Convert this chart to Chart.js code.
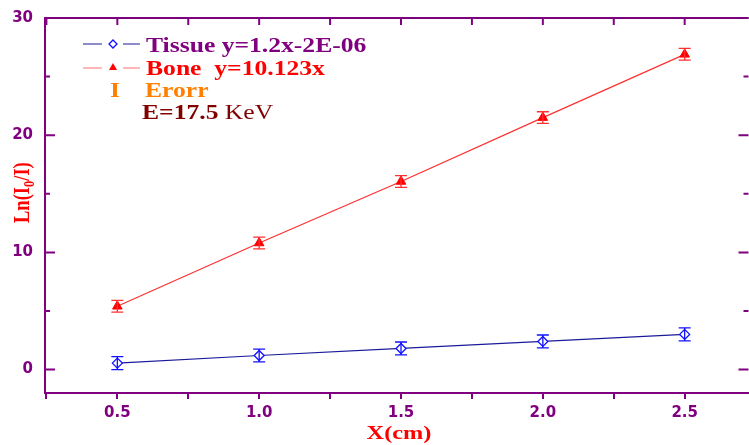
<!DOCTYPE html>
<html>
<head>
<meta charset="utf-8">
<script src="https://cdn.jsdelivr.net/npm/chart.js@4.4.1/dist/chart.umd.min.js"></script>
<style>
  body { margin: 0; background: #fff; overflow: hidden; }
  #wrap { width: 749px; height: 445px; overflow: hidden; }
  #myChart { display: block; margin-top: -3px; }
</style>
</head>
<body>
<div id="wrap"><canvas id="myChart" width="755" height="448"></canvas></div>
<script>
// values
var xValues = [0.5, 1.0, 1.5, 2.0, 2.5];
var tissueValues = [0.55, 1.2, 1.8, 2.4, 3.0];
var boneValues = [5.4, 10.8, 16.05, 21.5, 26.9];
var tissueErr = [0.55, 0.55, 0.55, 0.55, 0.55];
var boneErr = [0.5, 0.5, 0.5, 0.5, 0.5];
var xTickLabels = ['0.5', '1.0', '1.5', '2.0', '2.5'];
var yTickLabels = ['0', '10', '20', '30'];

var purple = '#800080';
var serif = '"Liberation Serif", "Times New Roman", serif';
var stretch = 1.28; // text in the original is wide
var dy = 3; // canvas sits 3px above the page top

function toPoints(ys) {
    return xValues.map(function (x, i) { return { x: x, y: ys[i] }; });
}

// draws text widened horizontally, returns the drawn width
function wideText(ctx, text, x, y) {
    ctx.save();
    ctx.translate(x, y + dy);
    ctx.scale(stretch, 1);
    ctx.fillText(text, 0, 0);
    var w = ctx.measureText(text).width * stretch;
    ctx.restore();
    return w;
}

// error bars, drawn through the scales
var errorBars = {
    id: 'errorBars',
    afterDatasetsDraw: function (chart) {
        var ctx = chart.ctx;
        var xs = chart.scales.x, ys = chart.scales.y;
        var sets = [
            { vals: tissueValues, err: tissueErr, color: '#1010ff' },
            { vals: boneValues, err: boneErr, color: '#ff3030' }
        ];
        ctx.save();
        ctx.lineWidth = 1.3;
        sets.forEach(function (s) {
            ctx.strokeStyle = s.color;
            xValues.forEach(function (x, i) {
                var px = xs.getPixelForValue(x);
                var top = ys.getPixelForValue(s.vals[i] + s.err[i]);
                var bot = ys.getPixelForValue(s.vals[i] - s.err[i]);
                ctx.beginPath();
                ctx.moveTo(px, top); ctx.lineTo(px, bot);
                ctx.moveTo(px - 6, top); ctx.lineTo(px + 6, top);
                ctx.moveTo(px - 6, bot); ctx.lineTo(px + 6, bot);
                ctx.stroke();
            });
        });
        ctx.restore();
    }
};

// frame ticks pointing inwards, legend and titles
var decorations = {
    id: 'decorations',
    afterDraw: function (chart) {
        var ctx = chart.ctx;
        var a = chart.chartArea;
        var xs = chart.scales.x, ys = chart.scales.y;
        ctx.save();
        ctx.strokeStyle = purple;
        ctx.lineWidth = 2;
        // top frame line
        ctx.beginPath();
        ctx.moveTo(a.left, a.top); ctx.lineTo(a.right, a.top);
        ctx.stroke();
        // left and right ticks
        ys.ticks.forEach(function (t) {
            var py = ys.getPixelForValue(t.value);
            var len = (t.value % 10 === 0) ? 10 : 5;
            ctx.beginPath();
            ctx.moveTo(a.left, py); ctx.lineTo(a.left + len, py);
            ctx.moveTo(a.right, py); ctx.lineTo(a.right - len, py);
            ctx.stroke();
        });
        // top ticks
        xs.ticks.forEach(function (t) {
            var px = xs.getPixelForValue(t.value);
            ctx.beginPath();
            ctx.moveTo(px, a.top); ctx.lineTo(px, a.top + 7);
            ctx.stroke();
        });

        // legend
        var lx = 83;
        ctx.lineWidth = 1;
        ctx.textBaseline = 'alphabetic';
        ctx.font = 'bold 20px ' + serif;

        // tissue row
        ctx.strokeStyle = '#1a1a9a';
        ctx.beginPath();
        ctx.moveTo(lx, 44 + dy); ctx.lineTo(lx + 19, 44 + dy);
        ctx.moveTo(lx + 40, 44 + dy); ctx.lineTo(lx + 57, 44 + dy);
        ctx.stroke();
        ctx.strokeStyle = '#1010ff';
        ctx.lineWidth = 1.3;
        ctx.fillStyle = '#fff';
        ctx.beginPath();
        ctx.moveTo(lx + 30, 40 + dy); ctx.lineTo(lx + 34, 44 + dy);
        ctx.lineTo(lx + 30, 48 + dy); ctx.lineTo(lx + 26, 44 + dy);
        ctx.closePath(); ctx.fill(); ctx.stroke();
        ctx.fillStyle = purple;
        wideText(ctx, 'Tissue y=1.2x-2E-06', 146, 52);

        // bone row
        ctx.lineWidth = 1;
        ctx.strokeStyle = '#ff7070';
        ctx.beginPath();
        ctx.moveTo(lx, 68 + dy); ctx.lineTo(lx + 19, 68 + dy);
        ctx.moveTo(lx + 40, 68 + dy); ctx.lineTo(lx + 57, 68 + dy);
        ctx.stroke();
        ctx.fillStyle = '#ff0000';
        ctx.beginPath();
        ctx.moveTo(lx + 30, 63 + dy); ctx.lineTo(lx + 34, 70 + dy);
        ctx.lineTo(lx + 26, 70 + dy);
        ctx.closePath(); ctx.fill();
        wideText(ctx, 'Bone  y=10.123x', 146, 75);

        // error row
        ctx.fillStyle = '#ff8000';
        wideText(ctx, 'I', 110, 97);
        wideText(ctx, 'Erorr', 145, 97);

        // energy row
        ctx.fillStyle = '#800000';
        var w = wideText(ctx, 'E=17.5 ', 142, 119);
        ctx.font = '20px ' + serif;
        wideText(ctx, 'KeV', 142 + w, 119);

        // x title
        ctx.fillStyle = '#ff0000';
        ctx.font = 'bold 19px ' + serif;
        var tw = ctx.measureText('X(cm)').width * stretch;
        wideText(ctx, 'X(cm)', 399 - tw / 2, 439);

        // y title with subscript, glyphs widened across the text direction
        ctx.save();
        ctx.translate(29, 223 + dy);
        ctx.rotate(-Math.PI / 2);
        ctx.scale(1.03, 1.3);
        ctx.font = 'bold 18px ' + serif;
        var p1 = 'Ln(I', p2 = '0', p3 = '/I)';
        ctx.fillText(p1, 0, 0);
        var w1 = ctx.measureText(p1).width;
        ctx.font = 'bold 12px ' + serif;
        ctx.fillText(p2, w1, 4);
        var w2 = ctx.measureText(p2).width;
        ctx.font = 'bold 18px ' + serif;
        ctx.fillText(p3, w1 + w2, 0);
        ctx.restore();

        ctx.restore();
    }
};

var tickFont = { family: 'DejaVu Sans', size: 15, weight: 'bold' };

var ctx = document.getElementById('myChart').getContext('2d');
var currentChart = new Chart(ctx, {
    type: 'scatter',
    data: {
        datasets: [{
            label: 'Tissue',
            data: toPoints(tissueValues),
            showLine: true,
            borderColor: '#1a1a9a',
            borderWidth: 1.2,
            pointStyle: 'rectRot',
            pointRadius: 5,
            pointBorderColor: '#1010ff',
            pointBackgroundColor: '#fff',
            pointBorderWidth: 1.3
        }, {
            label: 'Bone',
            data: toPoints(boneValues),
            showLine: true,
            borderColor: '#ff3030',
            borderWidth: 1.2,
            pointStyle: 'triangle',
            pointRadius: 5.5,
            pointBorderColor: '#ff0000',
            pointBackgroundColor: '#ff0000',
            pointBorderWidth: 1
        }]
    },
    options: {
        responsive: false,
        animation: false,
        layout: { padding: { top: 13, right: 0, left: 0, bottom: 0 } },
        plugins: {
            legend: { display: false },
            tooltip: { enabled: false }
        },
        scales: {
            x: {
                type: 'linear',
                min: 0.245,
                max: 2.725,
                afterFit: function (s) { s.height = 52; },
                ticks: {
                    stepSize: 0.25,
                    includeBounds: false,
                    autoSkip: false,
                    maxRotation: 0,
                    padding: 5,
                    color: purple,
                    font: tickFont,
                    callback: function (v) {
                        var i = xValues.indexOf(v);
                        return i >= 0 ? xTickLabels[i] : '';
                    }
                },
                grid: { drawOnChartArea: false, drawTicks: true, tickLength: 6, color: purple, lineWidth: 2 },
                border: { display: true, color: purple, width: 2 }
            },
            y: {
                min: -2,
                max: 30,
                afterFit: function (s) { s.width = 45; },
                ticks: {
                    stepSize: 5,
                    padding: 12,
                    color: purple,
                    font: tickFont,
                    callback: function (v) {
                        var i = yTickLabels.indexOf(String(v));
                        return i >= 0 ? yTickLabels[i] : '';
                    }
                },
                grid: { drawOnChartArea: false, drawTicks: false },
                border: { display: true, color: purple, width: 2 }
            }
        }
    },
    plugins: [errorBars, decorations]
});
</script>
</body>
</html>
